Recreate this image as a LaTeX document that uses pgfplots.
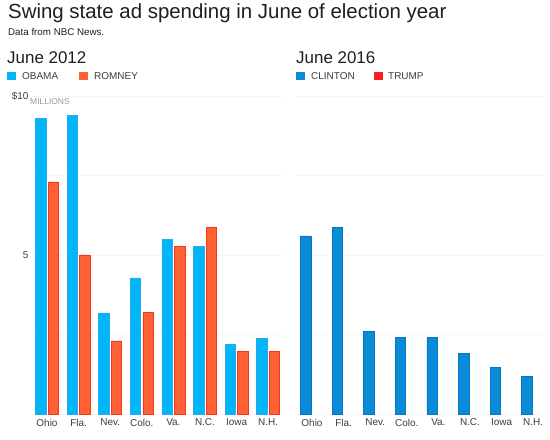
\documentclass[border=0pt]{standalone}
\usepackage{pgfplots}
\pgfplotsset{compat=1.18}
\usepackage{fontspec}
\setmainfont{Liberation Sans}
\definecolor{obama}{RGB}{0,182,248}
\definecolor{obamaedge}{RGB}{40,170,235}
\definecolor{romney}{RGB}{255,97,52}
\definecolor{romneyedge}{RGB}{240,55,25}
\definecolor{clinton}{RGB}{8,140,216}
\definecolor{clintonedge}{RGB}{10,115,195}
\definecolor{trump}{RGB}{255,30,30}
\definecolor{txt}{RGB}{30,30,30}
\definecolor{lbl}{RGB}{60,60,60}
\pgfplotsset{
  common/.style={
    scale only axis, width=251bp, height=318bp,
    anchor=south west,
    xmin=-0.475, xmax=7.47, ymin=0, ymax=10,
    axis line style={draw=none}, tick style={draw=none},
    xtick={0,...,7},
    xticklabels={Ohio,Fla.,Nev.,Colo.,Va.,N.C.,Iowa,N.H.},
    ytick={2.5,5,7.5,10},
    ymajorgrids, major grid style={draw=black!4, line width=0.6bp},
    extra y ticks={0}, extra y tick labels={},
    extra y tick style={grid style={draw=black!22, line width=1.2bp}},
    tick label style={font=\fontsize{10}{12}\selectfont, text=lbl},
    xticklabel style={yshift=-1.5bp},
    /pgf/number format/assume math mode=true,
    clip=false,
  },
}
\begin{document}
\begin{tikzpicture}[x=1bp,y=1bp]
\path[use as bounding box] (0,0) rectangle (550,440);
% titles
\node[anchor=base west, inner sep=0, text=txt] at (8,421) {\fontsize{20.5}{24}\selectfont Swing state ad spending in June of election year};
\node[anchor=base west, inner sep=0, text=txt] at (8,404) {\fontsize{9.8}{11}\selectfont Data from NBC News.};
\node[anchor=base west, inner sep=0, text=txt] at (7,376) {\fontsize{17}{20}\selectfont June 2012};
\node[anchor=base west, inner sep=0, text=txt] at (296,376) {\fontsize{17}{20}\selectfont June 2016};
% legends
\fill[obama] (7,360) rectangle (16,368);
\node[anchor=base west, inner sep=0, text=lbl] at (22,360) {\fontsize{10}{12}\selectfont OBAMA};
\fill[romney] (79,360) rectangle (88,368);
\node[anchor=base west, inner sep=0, text=lbl] at (94,360) {\fontsize{10}{12}\selectfont ROMNEY};
\fill[clinton] (296,360) rectangle (305,368);
\node[anchor=base west, inner sep=0, text=lbl] at (311,360) {\fontsize{10}{12}\selectfont CLINTON};
\fill[trump] (374,360) rectangle (383,368);
\node[anchor=base west, inner sep=0, text=lbl] at (388,360) {\fontsize{10}{12}\selectfont TRUMP};
\node[anchor=base west, inner sep=0, text=black!40] at (30,335) {\fontsize{8.5}{10}\selectfont MILLIONS};

\begin{axis}[common, at={(32bp,26bp)}, yticklabels={,5,,\$10}]
\addplot[ybar, bar width=10.5bp, bar shift=-6.3bp, fill=obama, draw=obamaedge, line width=0.5bp]
  coordinates {(0,9.3) (1,9.4) (2,3.18) (3,4.28) (4,5.5) (5,5.28) (6,2.2) (7,2.38)};
\addplot[ybar, bar width=10.5bp, bar shift=6.3bp, fill=romney, draw=romneyedge, line width=0.5bp]
  coordinates {(0,7.3) (1,5.0) (2,2.3) (3,3.2) (4,5.28) (5,5.88) (6,1.98) (7,1.98)};
\end{axis}

\begin{axis}[common, at={(297bp,26bp)}, yticklabels={}]
\addplot[ybar, bar width=10.5bp, bar shift=-6.3bp, fill=clinton, draw=clintonedge, line width=0.5bp]
  coordinates {(0,5.6) (1,5.88) (2,2.6) (3,2.4) (4,2.4) (5,1.9) (6,1.47) (7,1.18)};
\end{axis}
\end{tikzpicture}
\end{document}
